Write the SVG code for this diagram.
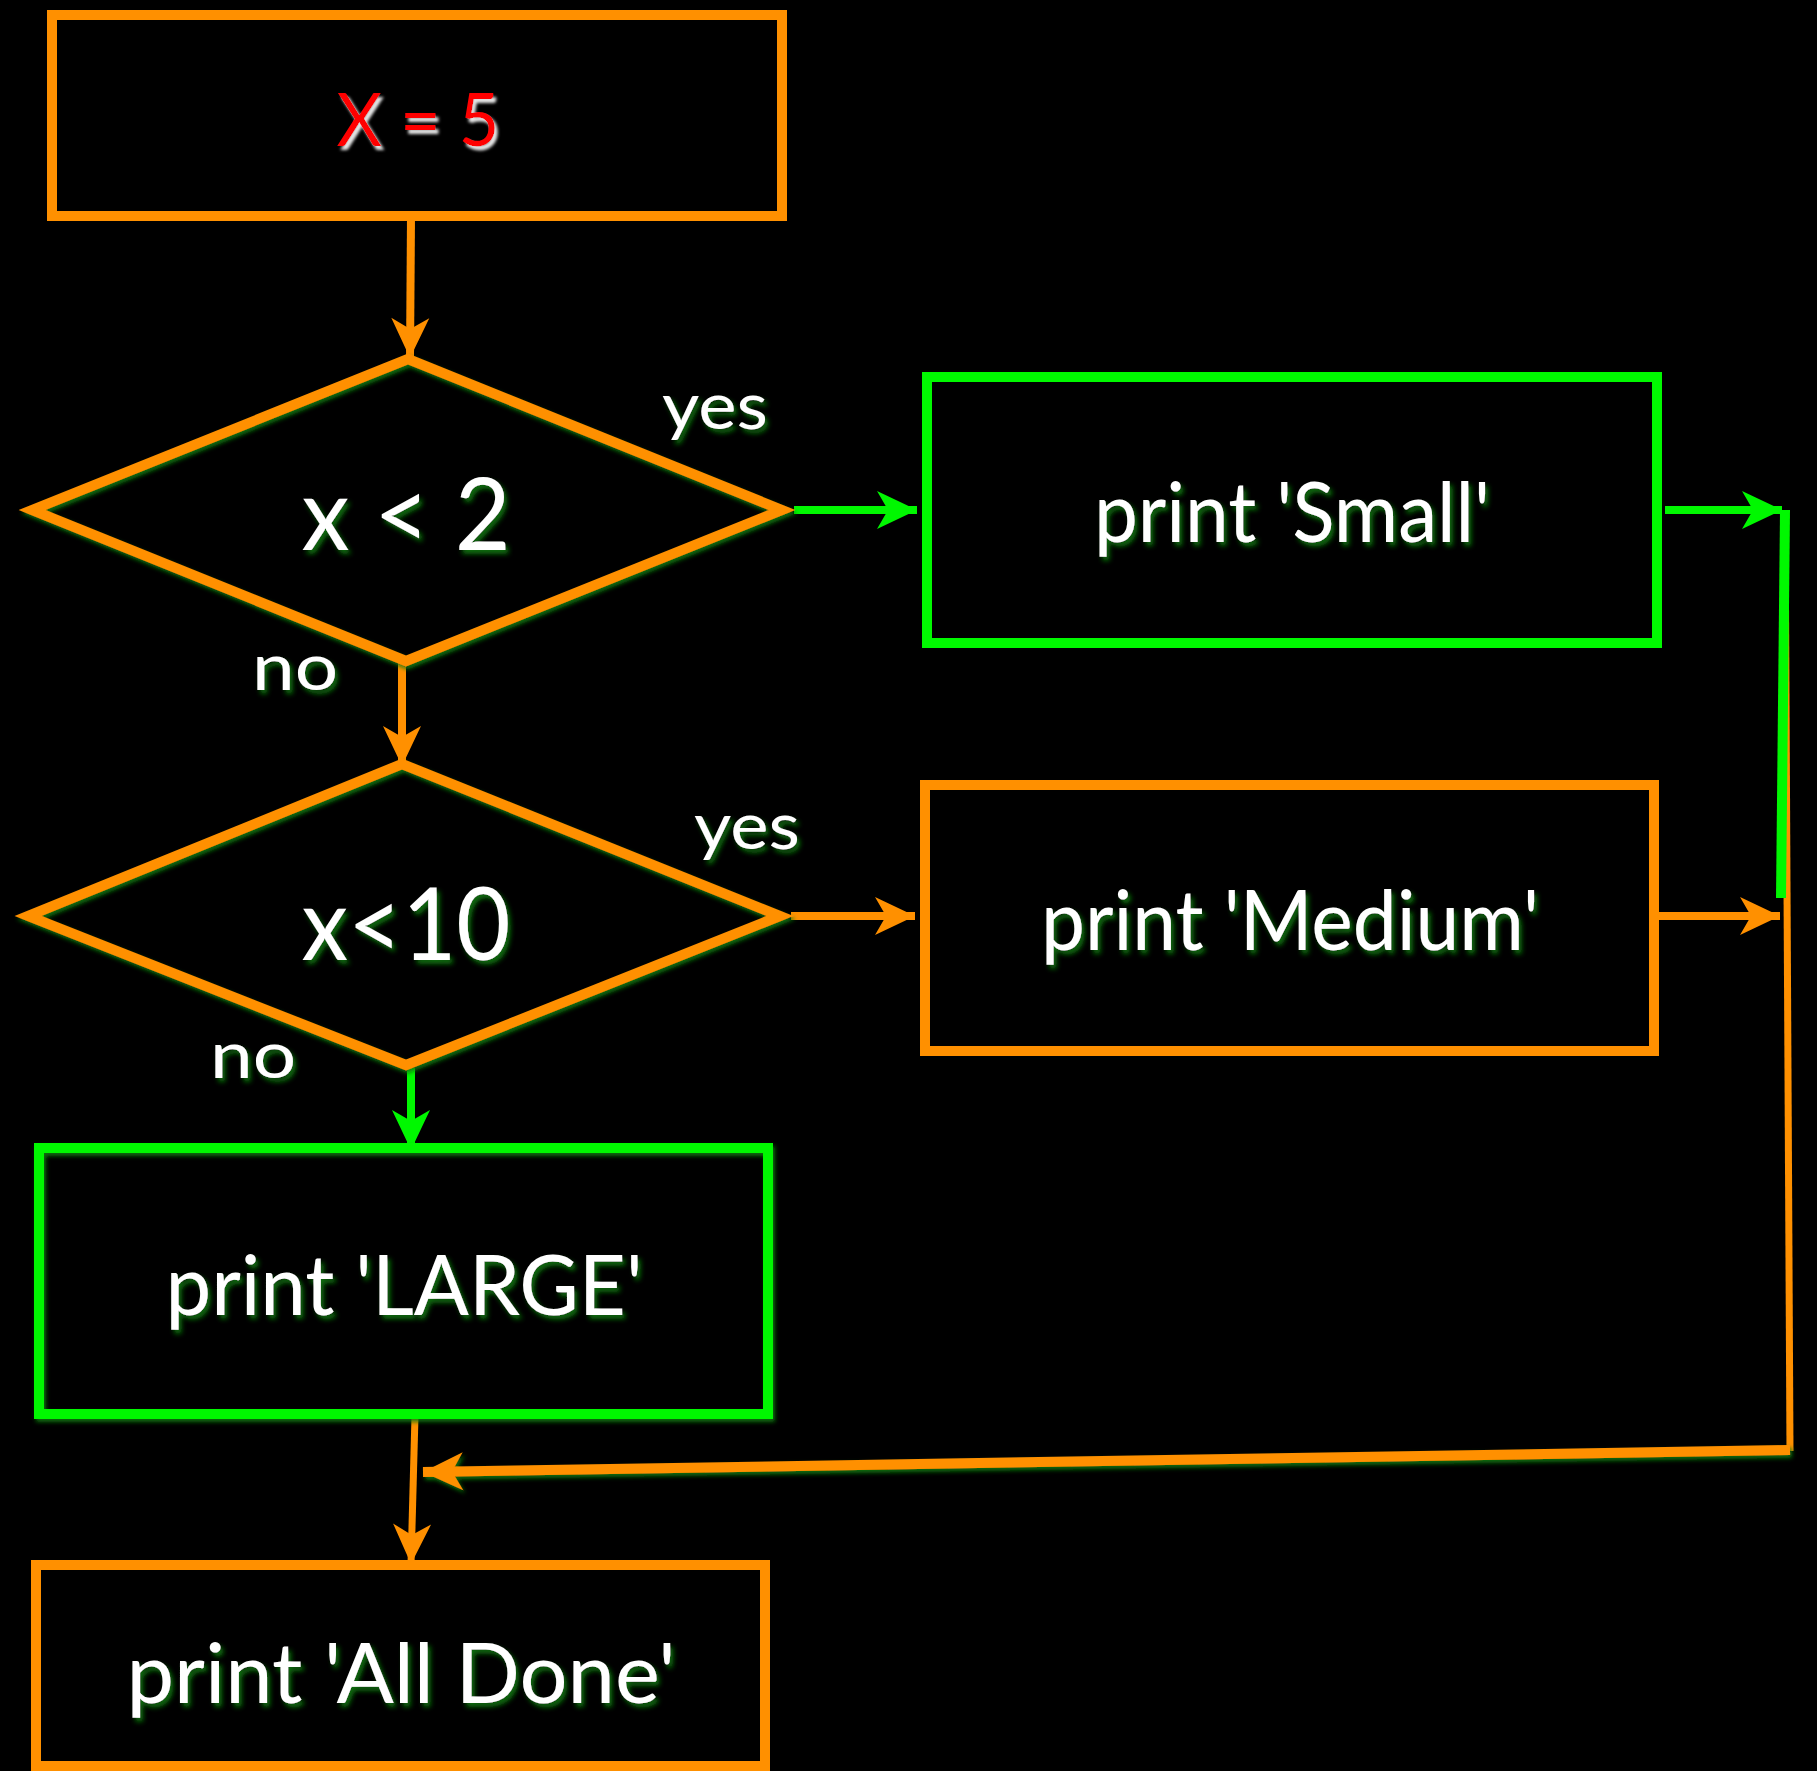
<svg xmlns="http://www.w3.org/2000/svg" width="1817" height="1771" viewBox="0 0 1817 1771">
<style>
.bg{fill:#000}
.box{fill:none;stroke-width:10}
.or{stroke:#ff9000}
.gr{stroke:#00f800}
.lbl{font-family:Lato,"Open Sans",sans-serif;fill:#fff;text-anchor:middle}
.conn{fill:none;stroke-width:8}
</style>
<defs>
<filter id="tglow" x="-20%" y="-30%" width="140%" height="160%">
<feDropShadow dx="3" dy="4" stdDeviation="2.5" flood-color="#0b6e0b" flood-opacity="1"/>
</filter>
<filter id="wsh" x="-20%" y="-30%" width="140%" height="160%">
<feDropShadow dx="3" dy="4" stdDeviation="1.5" flood-color="#ffffff" flood-opacity="0.9"/>
</filter>
<filter id="sglow" x="-10%" y="-10%" width="120%" height="120%">
<feDropShadow dx="2" dy="3" stdDeviation="2" flood-color="#0b7a0b" flood-opacity="0.9"/>
</filter>
<filter id="lglow" filterUnits="userSpaceOnUse" x="0" y="0" width="1817" height="1771">
<feDropShadow dx="2" dy="3" stdDeviation="2" flood-color="#0b7a0b" flood-opacity="0.9"/>
</filter>
<marker id="ao" viewBox="-44 -22 48 44" markerUnits="userSpaceOnUse" markerWidth="48" markerHeight="44" refX="0" refY="0" orient="auto">
<path d="M0,0 L-40,-19 L-29,0 L-40,19 Z" fill="#ff9000"/>
</marker>
<marker id="ag" viewBox="-44 -22 48 44" markerUnits="userSpaceOnUse" markerWidth="48" markerHeight="44" refX="0" refY="0" orient="auto">
<path d="M0,0 L-40,-19 L-29,0 L-40,19 Z" fill="#00f800"/>
</marker>
</defs>
<rect class="bg" x="0" y="0" width="1817" height="1771"/>

<g id="connectors">
<path class="conn or" d="M411,217 L410,358" marker-end="url(#ao)"/>
<path class="conn or" d="M402,663 L402,766" marker-end="url(#ao)"/>
<path class="conn gr" d="M794,510 L917,510" marker-end="url(#ag)"/>
<path class="conn or" d="M791,916 L915,916" marker-end="url(#ao)"/>
<path class="conn gr" d="M411,1068 L411,1150" marker-end="url(#ag)"/>
<path class="conn gr" d="M1665,510 L1782,510" marker-end="url(#ag)"/>
<path class="conn or" d="M1659,916 L1780,916" marker-end="url(#ao)"/>
<path class="conn or" d="M1785,510 L1790,1451" style="stroke-width:7"/>
<path class="conn gr" d="M1785,510 L1781,898" style="stroke-width:10"/>
<path class="conn or" d="M1790,1450 L423,1472" style="stroke-width:10" marker-end="url(#ao)" filter="url(#lglow)"/>
<path class="conn or" d="M415,1416 L411,1564" style="stroke-width:7" marker-end="url(#ao)"/>
</g>

<g id="n_x5">
<rect class="box or" x="52" y="15" width="730" height="201"/>
<text x="418" y="146" font-family="Lato,'Open Sans',sans-serif" font-size="74" fill="#ff0000" text-anchor="middle" filter="url(#wsh)" textLength="163" lengthAdjust="spacingAndGlyphs">X = 5</text>
</g>

<g id="n_d1">
<polygon class="box or" points="408,359 782,510 406,661 32,510" filter="url(#sglow)"/>
<text class="lbl" x="406" y="550" font-size="100" filter="url(#tglow)" textLength="209" lengthAdjust="spacingAndGlyphs">x &lt; 2</text>
<text class="lbl" x="715" y="429" font-size="66" filter="url(#tglow)" textLength="106" lengthAdjust="spacingAndGlyphs">yes</text>
<text class="lbl" x="295" y="690" font-size="66" filter="url(#tglow)" textLength="86" lengthAdjust="spacingAndGlyphs">no</text>
</g>

<g id="n_small">
<rect class="box gr" x="927" y="377" width="730" height="266"/>
<text class="lbl" x="1292" y="542" font-size="84" filter="url(#tglow)" textLength="396" lengthAdjust="spacingAndGlyphs">print 'Small'</text>
</g>

<g id="n_d2">
<polygon class="box or" points="402,764 780,916 406,1065 28,916" filter="url(#sglow)"/>
<text class="lbl" x="406" y="960" font-size="100" filter="url(#tglow)" textLength="209" lengthAdjust="spacingAndGlyphs">x&lt;10</text>
<text class="lbl" x="747" y="849" font-size="66" filter="url(#tglow)" textLength="106" lengthAdjust="spacingAndGlyphs">yes</text>
<text class="lbl" x="253" y="1078" font-size="66" filter="url(#tglow)" textLength="86" lengthAdjust="spacingAndGlyphs">no</text>
</g>

<g id="n_medium">
<rect class="box or" x="925" y="785" width="729" height="266"/>
<text class="lbl" x="1290" y="950" font-size="84" filter="url(#tglow)" textLength="498" lengthAdjust="spacingAndGlyphs">print 'Medium'</text>
</g>

<g id="n_large">
<rect class="box gr" x="39" y="1148" width="729" height="266" filter="url(#sglow)"/>
<text class="lbl" x="404" y="1315" font-size="84" filter="url(#tglow)" textLength="477" lengthAdjust="spacingAndGlyphs">print 'LARGE'</text>
</g>

<g id="n_done">
<rect class="box or" x="36" y="1565" width="729" height="201"/>
<text class="lbl" x="401" y="1703" font-size="84" filter="url(#tglow)" textLength="549" lengthAdjust="spacingAndGlyphs">print 'All Done'</text>
</g>
</svg>
